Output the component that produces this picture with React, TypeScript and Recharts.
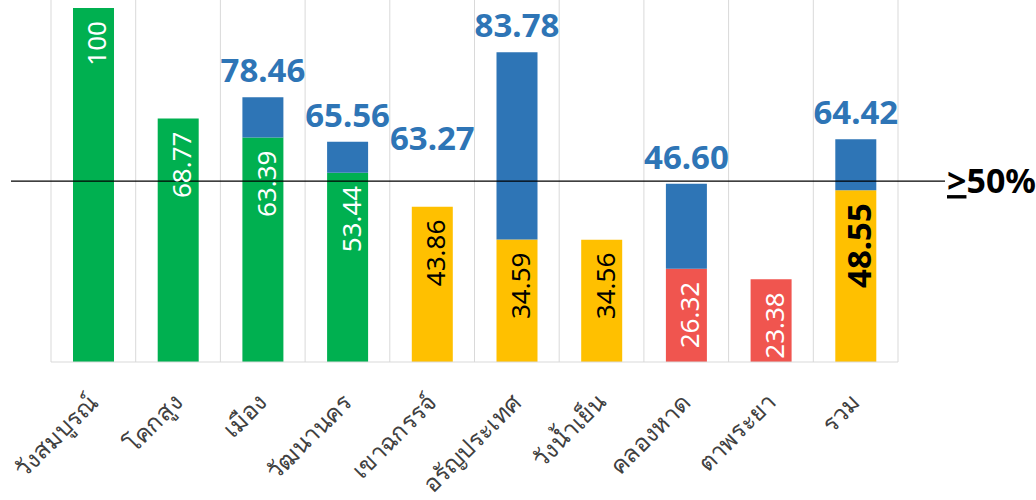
import { BarChart, Bar, XAxis, YAxis, CartesianGrid, ReferenceLine, LabelList, Cell } from 'recharts';

const districts = ['วังสมบูรณ์', 'โคกสูง', 'เมือง', 'วัฒนานคร', 'เขาฉกรรจ์', 'อรัญประเทศ', 'วังน้ำเย็น', 'คลองหาด', 'ตาพระยา', 'รวม'];
const baseScore = [100, 68.77, 63.39, 53.44, 43.86, 34.59, 34.56, 26.32, 23.38, 48.55];
const extraScore = [0, 0, 11.4, 8.8, 0, 52.9, 0, 24.0, 0, 14.4];
const totalLabels = [null, null, '78.46', '65.56', '63.27', '83.78', null, '46.60', null, '64.42'];
const target = 51.1;

const data = districts.map((name, i) => ({ name, base: baseScore[i], extra: extraScore[i] }));

const FONT = '"Noto Sans", "Open Sans", sans-serif';
const BLUE = '#2E75B6';

const tierColor = (v: number) => (v >= 50 ? '#00B050' : v >= 30 ? '#FFC000' : '#F0554F');

const DistrictTick = (p: any) => {
  const x = p.x + 6;
  const y = p.y + 34;
  return (
    <text x={x} y={y} transform={`rotate(-45 ${x} ${y})`} textAnchor="end" fontSize={24} fill="#404040" fontFamily={FONT}>
      {p.payload.value}
    </text>
  );
};

const BaseLabel = (p: any) => {
  const { x, y, width, index } = p;
  const v = baseScore[index];
  const last = index === baseScore.length - 1;
  const cx = x + width / 2 + 3;
  const ty = y + 13;
  return (
    <text
      x={cx}
      y={ty}
      transform={`rotate(-90 ${cx} ${ty})`}
      textAnchor="end"
      dominantBaseline="central"
      fontSize={last ? 33 : 26}
      fontWeight={last ? 700 : 400}
      fill={v >= 30 && v < 50 ? '#000' : '#fff'}
      fontFamily={FONT}
    >
      {v === 100 ? '100' : v.toFixed(2)}
    </text>
  );
};

// total label sits above the full stack; the stack top is worked out from the base bar's own pixel scale
const TotalLabel = (p: any) => {
  const { x, y, width, height, index } = p;
  const txt = totalLabels[index];
  if (!txt) return null;
  const pxPerUnit = height / baseScore[index];
  const top = y - extraScore[index] * pxPerUnit;
  const lift = extraScore[index] === 0 ? 57 : 15;
  return (
    <text x={x + width / 2} y={top - lift} textAnchor="middle" fontSize={33} fontWeight={700} fill={BLUE} fontFamily={FONT}>
      {txt}
    </text>
  );
};

const TargetLine = (p: any) => (
  <g>
    <line x1={11} x2={945} y1={p.y1} y2={p.y1} stroke="#000" strokeWidth={1.2} />
    <text x={947} y={p.y1 + 12} fontSize={34} fontWeight={700} fill="#000" fontFamily={FONT}>
      <tspan style={{ textDecoration: 'underline' }}>&gt;</tspan>50%
    </text>
  </g>
);

export default function App() {
  return (
    <div style={{ position: 'absolute', left: 0, top: 0 }}>
      <BarChart width={1036} height={500} data={data} margin={{ top: 0, right: 138, left: 51, bottom: 0 }}>
        <CartesianGrid
          horizontal={false}
          stroke="#d9d9d9"
          verticalCoordinatesGenerator={({ offset }: any) =>
            districts.map((_, i) => offset.left + (i * offset.width) / districts.length).concat(offset.left + offset.width)
          }
        />
        <XAxis
          dataKey="name"
          height={138}
          interval={0}
          tickLine={false}
          axisLine={{ stroke: '#d9d9d9' }}
          tick={<DistrictTick />}
        />
        <YAxis hide domain={[0, 102.26]} />
        <Bar dataKey="base" stackId="a" barSize={41} isAnimationActive={false}>
          {data.map((d, i) => (
            <Cell key={i} fill={tierColor(d.base)} />
          ))}
          <LabelList dataKey="base" content={<BaseLabel />} />
          <LabelList dataKey="base" content={<TotalLabel />} />
        </Bar>
        <Bar dataKey="extra" stackId="a" barSize={41} fill={BLUE} isAnimationActive={false} />
        <ReferenceLine y={target} shape={<TargetLine />} />
      </BarChart>
    </div>
  );
}
